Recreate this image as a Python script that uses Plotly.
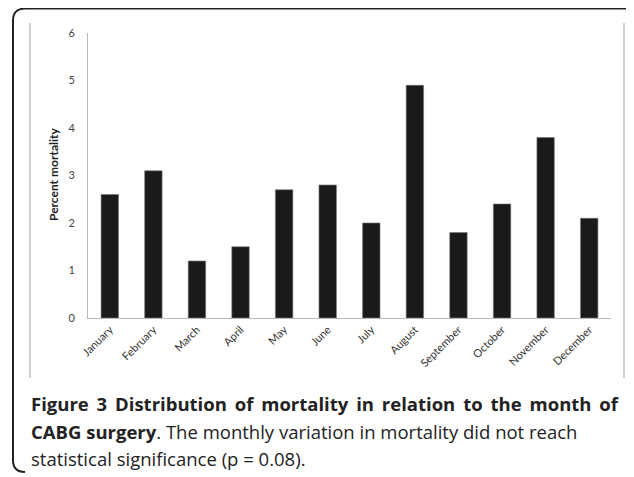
import plotly.graph_objects as go

# data
months = ["January", "February", "March", "April", "May", "June",
          "July", "August", "September", "October", "November", "December"]
mortality = [2.6, 3.1, 1.2, 1.5, 2.7, 2.8, 2.0, 4.9, 1.8, 2.4, 3.8, 2.1]
y_ticks = [0, 1, 2, 3, 4, 5, 6]

# first line is justified in the original, so pad its spaces with thin spaces
caption_1 = "<b>" + "Figure 3 Distribution of mortality in relation to the month of".replace(" ", " \u2009") + "</b>"
caption_2 = "<b>CABG surgery</b>. The monthly variation in mortality did not reach"
caption_3 = "statistical significance (p = 0.08)."

# the page body adds an 8px margin, so work in page pixels and shift back
OFF = 8
W, H = 634 - OFF, 477 - OFF
L, R, T, B = 88, 611, 33, 318  # plot area in page pixels


def px(x):
    return (x - L) / (R - L)


def py(y):
    return (B - y) / (B - T)


fig = go.Figure()
fig.add_trace(go.Bar(
    x=months, y=mortality,
    marker=dict(color="#1a1a1a", line=dict(color="#777777", width=0.6)),
    width=0.4,
))

# outer rounded frame (top edge sits right at the figure edge)
r = 12
x0, y0, y1 = 13, 8.6, 472
path = (f"M {px(x0)},{py(y0 + r)} "
        f"Q {px(x0)},{py(y0)} {px(x0 + r)},{py(y0)} "
        f"L {px(626)},{py(y0)} "
        f"Q {px(631)},{py(y0)} {px(634)},{py(y0 + 4)} "
        f"M {px(x0)},{py(y0 + r)} "
        f"L {px(x0)},{py(y1 - r)} "
        f"Q {px(x0)},{py(y1)} {px(x0 + r)},{py(y1)}")
shapes = [
    dict(type="path", xref="paper", yref="paper", path=path,
         line=dict(color="#222222", width=2)),
    dict(type="line", xref="paper", yref="paper",
         x0=px(30), x1=px(30), y0=py(23), y1=py(378),
         line=dict(color="#a0a0a0", width=1)),
    dict(type="line", xref="paper", yref="paper",
         x0=px(624), x1=px(624), y0=py(23), y1=py(378),
         line=dict(color="#a0a0a0", width=1)),
]

cap_font = dict(family="Open Sans", size=18.5, color="#222222")
annotations = [
    dict(text="<b>Percent mortality</b>", textangle=-90, x=px(53), y=py(175),
         xref="paper", yref="paper", xanchor="center", yanchor="middle",
         showarrow=False, font=dict(family="Lato", size=12, color="#222222")),
    dict(text=caption_1, x=px(29), y=py(403), xref="paper", yref="paper",
         xanchor="left", yanchor="middle", showarrow=False, font=cap_font),
    dict(text=caption_2, x=px(29), y=py(431), xref="paper", yref="paper",
         xanchor="left", yanchor="middle", showarrow=False, font=cap_font),
    dict(text=caption_3, x=px(29), y=py(458), xref="paper", yref="paper",
         xanchor="left", yanchor="middle", showarrow=False, font=cap_font),
]

fig.update_layout(
    width=W, height=H,
    margin=dict(l=L - OFF, r=W - (R - OFF), t=T - OFF, b=H - (B - OFF)),
    paper_bgcolor="white", plot_bgcolor="white",
    showlegend=False,
    shapes=shapes,
    annotations=annotations,
    xaxis=dict(showline=True, linecolor="#bbbbbb", linewidth=1,
               tickangle=-45, ticks="", showgrid=False,
               tickfont=dict(family="Lato", size=11, color="#333333")),
    yaxis=dict(range=[0, 6], tickvals=y_ticks, showline=True,
               linecolor="#bbbbbb", linewidth=1, showgrid=False,
               zeroline=False, ticks="outside", ticklen=10,
               tickcolor="rgba(0,0,0,0)",
               tickfont=dict(family="Lato", size=11, color="#444444")),
)

fig.write_html("out.html")
